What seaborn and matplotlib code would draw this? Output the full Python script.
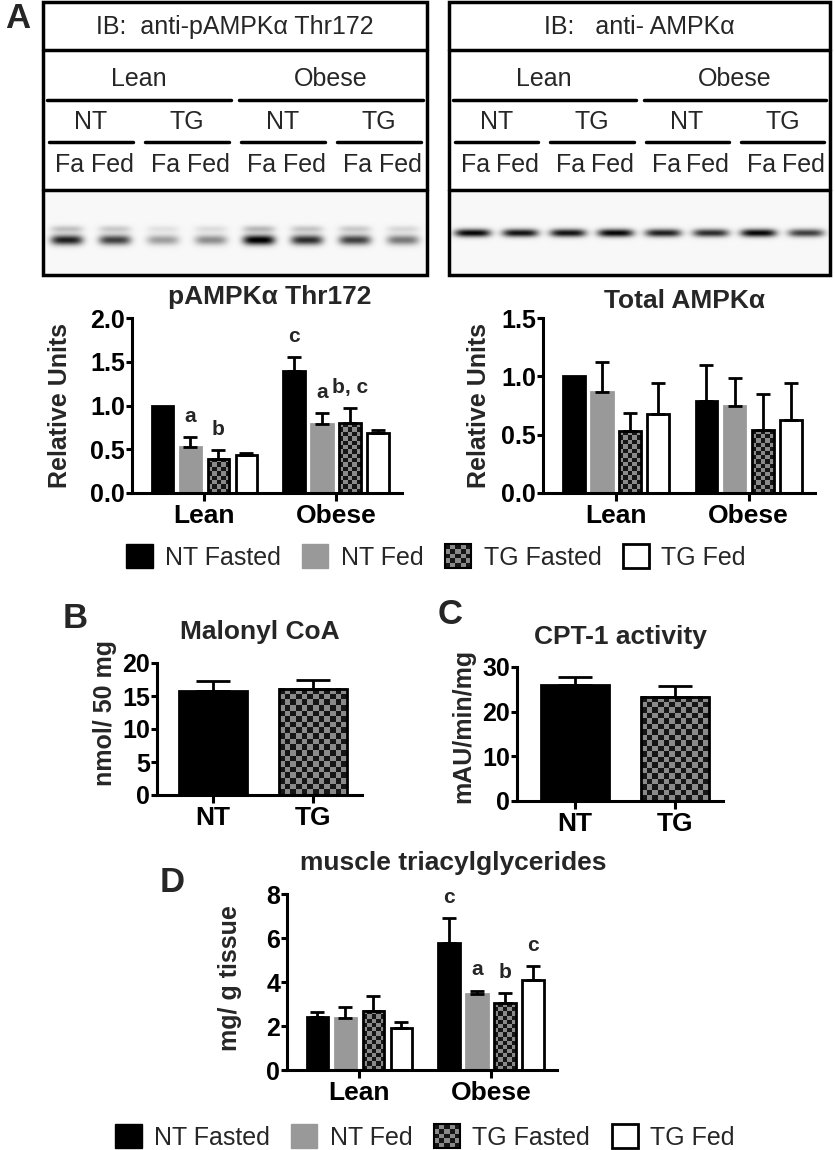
import numpy as np
import pandas as pd
import seaborn as sns
import matplotlib
matplotlib.use("Agg")
import matplotlib.pyplot as plt
from matplotlib.colors import ListedColormap
from matplotlib.patches import Patch, Rectangle
from matplotlib.legend_handler import HandlerBase

groups = ["Lean", "Obese"]
conditions = ["NT Fasted", "NT Fed", "TG Fasted", "TG Fed"]
genotypes = ["NT", "TG"]
lane_labels = ["Fa", "Fed"]

# A: pAMPKa Thr172 (rows: Lean, Obese)
pampk_mean = [[1.00, 0.53, 0.39, 0.43], [1.39, 0.785, 0.80, 0.69]]
pampk_sem = [[0.0, 0.11, 0.10, 0.03], [0.16, 0.125, 0.17, 0.03]]
pampk_letters = [["", "a", "b", ""], ["c", "a", "b, c", ""]]

# A: total AMPKa
total_mean = [[1.00, 0.87, 0.53, 0.68], [0.79, 0.75, 0.54, 0.63]]
total_sem = [[0.0, 0.25, 0.16, 0.26], [0.31, 0.24, 0.31, 0.31]]

# blot band darkness, lanes in header order
pampk_bands = [0.85, 0.72, 0.35, 0.42, 1.0, 0.8, 0.72, 0.5]
total_bands = [0.95, 0.9, 0.9, 0.95, 0.85, 0.8, 0.95, 0.72]

# B: malonyl CoA, C: CPT-1 activity
malonyl_mean = [15.8, 16.1]
malonyl_sem = [1.5, 1.3]
cpt_mean = [26.0, 23.3]
cpt_sem = [1.8, 2.4]

# D: muscle triacylglycerides
tag_mean = [[2.42, 2.38, 2.70, 1.89], [5.79, 3.45, 3.03, 4.09]]
tag_sem = [[0.23, 0.50, 0.66, 0.31], [1.11, 0.15, 0.46, 0.64]]
tag_letters = [["", "", "", ""], ["c", "a", "b", "c"]]

W, H = 835, 1150
GRAY = "#999999"
CHECK = ListedColormap(["#151515", "#8a8a8a"])

sns.set_theme(style="ticks")
plt.rcParams["font.family"] = ["Liberation Sans", "DejaVu Sans"]

fig = plt.figure(figsize=(W / 100, H / 100), dpi=100)


def px_rect(l, t, r, b):
    return [l / W, 1 - b / H, (r - l) / W, (b - t) / H]


def checker_fill(ax, patch, cell_px):
    x0, y0 = patch.get_x(), patch.get_y()
    w, h = patch.get_width(), patch.get_height()
    p0 = ax.transData.transform((x0, y0))
    p1 = ax.transData.transform((x0 + w, y0 + h))
    nx = max(1, int(round(abs(p1[0] - p0[0]) / cell_px)))
    ny = max(1, int(round(abs(p1[1] - p0[1]) / cell_px)))
    grid = np.add.outer(np.arange(ny), np.arange(nx)) % 2
    ax.imshow(grid, extent=(x0, x0 + w, y0, y0 + h), cmap=CHECK, origin="lower",
              interpolation="nearest", aspect="auto", zorder=patch.get_zorder() - 0.05)


def style_axes(ax, ylabel, label_xy):
    sns.despine(ax=ax)
    for s in ["left", "bottom"]:
        ax.spines[s].set_linewidth(2.2)
        ax.spines[s].set_color("black")
    ax.tick_params(axis="y", length=4, width=2.2, pad=1, labelsize=18, colors="black")
    ax.tick_params(axis="x", length=6, width=2.2, pad=2, labelsize=19, colors="black")
    for lbl in ax.get_xticklabels() + ax.get_yticklabels():
        lbl.set_fontweight("bold")
    ax.set_xlabel("")
    ax.set_ylabel(ylabel, fontsize=18, fontweight="bold")
    ax.yaxis.set_label_coords(*label_xy)


def style_bars(ax, container, kind, cell_px):
    for p in container:
        if kind == 0:
            p.set_facecolor("black"); p.set_edgecolor("black")
        elif kind == 1:
            p.set_facecolor(GRAY); p.set_edgecolor(GRAY)
        elif kind == 2:
            p.set_facecolor("none"); p.set_edgecolor("black")
            checker_fill(ax, p, cell_px)
        else:
            p.set_facecolor("white"); p.set_edgecolor("black")
        p.set_linewidth(2.0)


def add_errors(ax, container, means, sems, capsize):
    for p, m, s in zip(container, means, sems):
        if s <= 0:
            continue
        x = p.get_x() + p.get_width() / 2
        ax.errorbar(x, m, yerr=[[0], [s]], fmt="none", ecolor="black",
                    elinewidth=2.0, capsize=capsize, capthick=2.0, zorder=4)


def grouped_panel(rect, means, sems, ymax, yticks, fmt, title, title_y, title_x,
                  ylabel, label_xy, letters=None):
    ax = fig.add_axes(px_rect(*rect))
    df = pd.DataFrame([(g, c, means[i][j]) for i, g in enumerate(groups)
                       for j, c in enumerate(conditions)],
                      columns=["group", "condition", "value"])
    sns.barplot(data=df, x="group", y="value", hue="condition", order=groups,
                hue_order=conditions, palette=["black", GRAY, "#555555", "white"],
                saturation=1, width=0.85, gap=0.23, errorbar=None, legend=False, ax=ax)
    ax.set_xlim(-0.55, 1.5)
    ax.set_ylim(0, ymax)
    ax.set_yticks(yticks)
    ax.set_yticklabels([fmt.format(t) for t in yticks])
    for j, cont in enumerate(ax.containers[:4]):
        col_m = [means[i][j] for i in range(2)]
        col_s = [sems[i][j] for i in range(2)]
        style_bars(ax, cont, j, 4.3)
        add_errors(ax, cont, col_m, col_s, 5)
        if letters is not None:
            for i, p in enumerate(cont):
                txt = letters[i][j]
                if txt:
                    ax.annotate(txt, (p.get_x() + p.get_width() / 2, col_m[i] + col_s[i]),
                                xytext=(0, 15), textcoords="offset points", ha="center",
                                va="center", fontsize=15, fontweight="bold")
    style_axes(ax, ylabel, label_xy)
    ax.text(title_x, title_y, title, transform=ax.transAxes, ha="center", va="center",
            fontsize=19, fontweight="bold")
    return ax


def pair_panel(rect, means, sems, ymax, yticks, xlim, title, title_y, ylabel, label_xy):
    ax = fig.add_axes(px_rect(*rect))
    df = pd.DataFrame({"genotype": genotypes, "value": means})
    sns.barplot(data=df, x="genotype", y="value", hue="genotype", order=genotypes,
                hue_order=genotypes, palette=["black", "#555555"], saturation=1,
                width=0.68, errorbar=None, legend=False, ax=ax)
    ax.set_xlim(*xlim)
    ax.set_ylim(0, ymax)
    ax.set_yticks(yticks)
    for j, cont in enumerate(ax.containers[:2]):
        style_bars(ax, cont, 0 if j == 0 else 2, 5.5)
        add_errors(ax, cont, [means[j]], [sems[j]], 12)
    style_axes(ax, ylabel, label_xy)
    ax.text(0.5, title_y, title, transform=ax.transAxes, ha="center", va="center",
            fontsize=19, fontweight="bold")
    return ax


def draw_blot(x0, x1, title, bands, band_y, band_h, band_w, doublet):
    top, line1, line2, bottom = 2, 50, 190, 275
    ax = fig.add_axes(px_rect(x0, top, x1, bottom))
    ax.set_xlim(x0, x1)
    ax.set_ylim(bottom, top)
    ax.axis("off")
    lane = (x1 - x0) / 8
    centers = x0 + lane * (np.arange(8) + 0.5)
    X, Y = np.meshgrid(np.arange(x0, x1) + 0.5, np.arange(line2, bottom) + 0.5)
    img = np.full(X.shape, 0.03)
    for cx, d in zip(centers, bands):
        prof = np.exp(-((X - cx) / band_w) ** 4)
        img += d * prof * np.exp(-((Y - band_y) / band_h) ** 2)
        if doublet:
            img += 0.25 * d * prof * np.exp(-((Y - band_y + 11) / 3.5) ** 2)
    ax.imshow(np.clip(img, 0, 1), extent=(x0, x1, bottom, line2), cmap="gray_r",
              vmin=0, vmax=1, aspect="auto", interpolation="bilinear")
    ax.add_patch(Rectangle((x0, top), x1 - x0, bottom - top, fill=False, lw=2.5,
                           ec="black", clip_on=False, zorder=5))
    for yy in (line1, line2):
        ax.plot([x0, x1], [yy, yy], color="black", lw=2.5, clip_on=False, zorder=5)
    ax.text((x0 + x1) / 2, 27, title, ha="center", va="center", fontsize=18)
    for k, g in enumerate(groups):
        a = x0 + 4 * lane * k
        ax.text(a + 2 * lane, 79, g, ha="center", va="center", fontsize=18)
        ax.plot([a + 4, a + 4 * lane - 4], [100, 100], color="black", lw=2.5, clip_on=False)
    for k in range(4):
        a = x0 + 2 * lane * k
        ax.text(a + lane, 122, genotypes[k % 2], ha="center", va="center", fontsize=18)
        ax.plot([a + 6, a + 2 * lane - 6], [142, 142], color="black", lw=2.5, clip_on=False)
    for k, cx in enumerate(centers):
        shift = 3 if k % 2 == 0 else -3
        ax.text(cx + shift, 165, lane_labels[k % 2], ha="center", va="center", fontsize=18)


class CheckerHandler(HandlerBase):
    def create_artists(self, legend, orig_handle, xdescent, ydescent, width, height,
                       fontsize, trans):
        n = 5
        arts = []
        for i in range(n):
            for j in range(n):
                c = CHECK.colors[(i + j) % 2]
                arts.append(Rectangle((-xdescent + i * width / n, -ydescent + j * height / n),
                                      width / n, height / n, facecolor=c, edgecolor="none",
                                      transform=trans))
        arts.append(Rectangle((-xdescent, -ydescent), width, height, facecolor="none",
                              edgecolor="black", lw=1.5, transform=trans))
        return arts


def add_legend(cx, cy):
    check = Patch(facecolor="#555555", edgecolor="black")
    handles = [Patch(facecolor="black", edgecolor="black"),
               Patch(facecolor=GRAY, edgecolor=GRAY),
               check,
               Patch(facecolor="white", edgecolor="black", lw=2)]
    fig.legend(handles, conditions, loc="center", bbox_to_anchor=(cx / W, 1 - cy / H),
               ncol=4, frameon=False, fontsize=18, handlelength=1.05, handleheight=1.05,
               handletextpad=0.5, columnspacing=0.85, handler_map={check: CheckerHandler()})


# ---- panel A: blots ----
draw_blot(43, 427, "IB:  anti-pAMPK\u03b1 Thr172", pampk_bands, 240, 5, 16, True)
draw_blot(449, 830, "IB:   anti- AMPK\u03b1", total_bands, 233, 4, 18, False)

grouped_panel((132, 318, 402, 493), pampk_mean, pampk_sem, 2.0, [0, 0.5, 1.0, 1.5, 2.0],
              "{:.1f}", "pAMPK\u03b1 Thr172", 1.12, 0.51, "Relative Units", (-0.222, 0.5),
              pampk_letters)
grouped_panel((543, 318, 815, 493), total_mean, total_sem, 1.5, [0, 0.5, 1.0, 1.5],
              "{:.1f}", "Total AMPK\u03b1", 1.10, 0.52, "Relative Units", (-0.19, 0.5))
add_legend(436, 557)

# ---- panels B, C ----
pair_panel((157, 663, 362, 795), malonyl_mean, malonyl_sem, 20, [0, 5, 10, 15, 20],
           (-0.56, 1.49), "Malonyl CoA", 1.235, "nmol/ 50 mg", (-0.195, 0.62))
pair_panel((517, 667, 723, 801), cpt_mean, cpt_sem, 30, [0, 10, 20, 30],
           (-0.58, 1.48), "CPT-1 activity", 1.224, "mAU/min/mg", (-0.205, 0.56))

# ---- panel D ----
grouped_panel((287, 894, 557, 1070), tag_mean, tag_sem, 8, [0, 2, 4, 6, 8],
              "{:.0f}", "muscle triacylglycerides", 1.176, 0.615, "mg/ g tissue",
              (-0.167, 0.52), tag_letters)
add_legend(425, 1137)

for letter, x, y in [("A", 18, 18), ("B", 75, 618), ("C", 450, 615), ("D", 172, 882)]:
    fig.text(x / W, 1 - y / H, letter, ha="center", va="center", fontsize=25,
             fontweight="bold")

fig.savefig("out.png", dpi=100)
